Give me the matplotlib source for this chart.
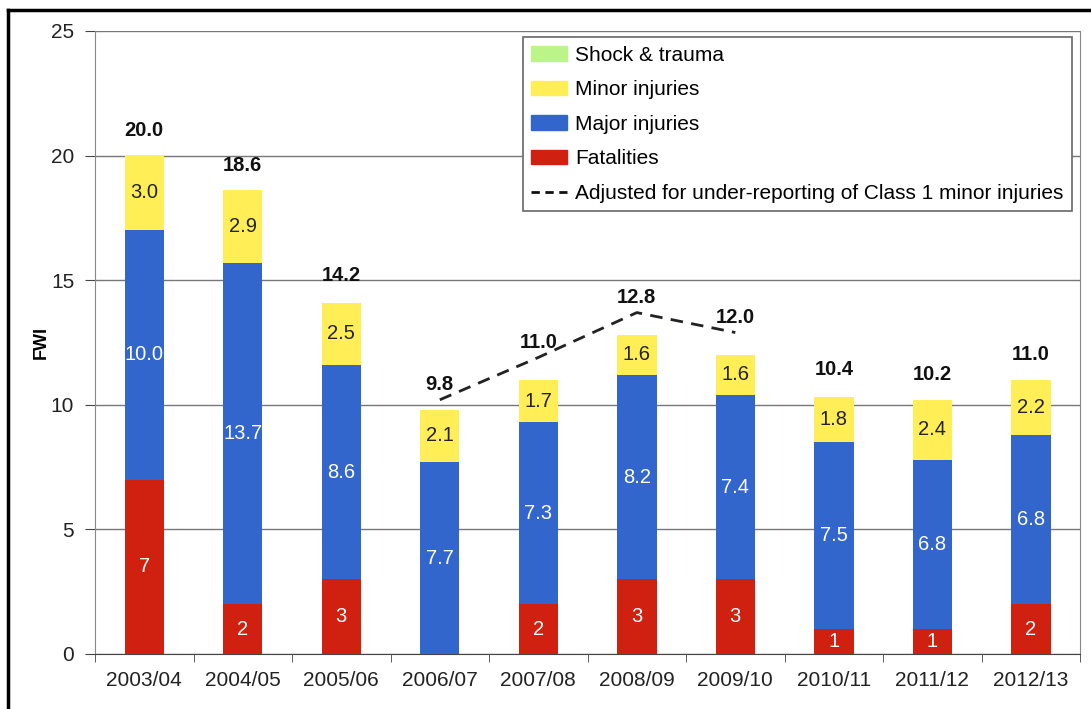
import matplotlib
matplotlib.use("Agg")
import matplotlib.pyplot as plt
import numpy as np
from matplotlib.patches import Patch
from matplotlib.lines import Line2D

plt.rcParams['font.family'] = ['Liberation Sans', 'DejaVu Sans']

years = ["2003/04", "2004/05", "2005/06", "2006/07", "2007/08",
         "2008/09", "2009/10", "2010/11", "2011/12", "2012/13"]
fatalities = [7, 2, 3, 0, 2, 3, 3, 1, 1, 2]
major = [10.0, 13.7, 8.6, 7.7, 7.3, 8.2, 7.4, 7.5, 6.8, 6.8]
minor = [3.0, 2.9, 2.5, 2.1, 1.7, 1.6, 1.6, 1.8, 2.4, 2.2]
shock = [0.0, 0.0, 0.0, 0.0, 0.0, 0.0, 0.0, 0.0, 0.0, 0.0]
totals = [20.0, 18.6, 14.2, 9.8, 11.0, 12.8, 12.0, 10.4, 10.2, 11.0]
adjusted = [np.nan, np.nan, np.nan, 10.2, 11.9, 13.7, 12.9, np.nan, np.nan, np.nan]

c_red = "#D0200F"
c_blue = "#3366CC"
c_yellow = "#FFEE55"
c_green = "#BBF58A"

fig = plt.figure(figsize=(10.91, 7.09), dpi=100)
ax = fig.add_axes([0.0871, 0.0776, 0.9029, 0.8787])

x = np.arange(len(years))
w = 0.4
f = np.array(fatalities, float)
mj = np.array(major)
mn = np.array(minor)
sh = np.array(shock)

ax.bar(x, f, w, color=c_red, zorder=3)
ax.bar(x, mj, w, bottom=f, color=c_blue, zorder=3)
ax.bar(x, mn, w, bottom=f + mj, color=c_yellow, zorder=3)
ax.bar(x, sh, w, bottom=f + mj + mn, color=c_green, zorder=3)

ax.plot(x, adjusted, linestyle=(0, (4.5, 3)), color="#222222", lw=2.0, zorder=4)

fs = 14.5
for i in range(len(years)):
    if f[i] > 0:
        ax.text(x[i], f[i] / 2, f"{int(f[i])}", ha='center', va='center',
                color='white', fontsize=fs, zorder=5)
    ax.text(x[i], f[i] + mj[i] / 2, f"{mj[i]:.1f}", ha='center', va='center',
            color='white', fontsize=fs, zorder=5)
    ax.text(x[i], f[i] + mj[i] + mn[i] / 2, f"{mn[i]:.1f}", ha='center', va='center',
            color='#222222', fontsize=fs, zorder=5)
    if np.isnan(adjusted[i]):
        ty = totals[i] + 1.0
    else:
        ty = adjusted[i] + 0.6
    ax.text(x[i], ty, f"{totals[i]:.1f}", ha='center', va='center',
            color='#111111', fontsize=fs, fontweight='bold', zorder=5)

ax.set_xlim(-0.5, len(years) - 0.5)
ax.set_ylim(0, 25)
ax.set_yticks([0, 5, 10, 15, 20, 25])
ax.set_xticks(x)
ax.set_xticklabels(years)
ax.set_xticks(np.arange(-0.5, len(years)), minor=True)
ax.tick_params(axis='x', which='major', length=0, labelsize=15, pad=12, colors='#222222')
ax.tick_params(axis='x', which='minor', length=6, color='#444444', direction='out')
ax.tick_params(axis='y', length=7, labelsize=15, color='#444444', labelcolor='#222222', pad=8)
ax.yaxis.grid(True, color='#777777', lw=1.0, zorder=0)
ax.set_axisbelow(True)
for s in ['left', 'right']:
    ax.spines[s].set_color('#888888')
ax.spines['bottom'].set_color('#444444')
ax.spines['top'].set_visible(False)
ax.set_ylabel("FWI", fontsize=13, fontweight='bold')
ax.yaxis.set_label_coords(-0.046, 0.5)

handles = [Patch(color=c_green, label="Shock & trauma"),
           Patch(color=c_yellow, label="Minor injuries"),
           Patch(color=c_blue, label="Major injuries"),
           Patch(color=c_red, label="Fatalities"),
           Line2D([0], [0], color="#111111", lw=2, linestyle=(0, (3, 2)),
                  label="Adjusted for under-reporting of Class 1 minor injuries")]
leg = ax.legend(handles=handles, loc='upper left', bbox_to_anchor=(0.4345, 0.99),
                borderaxespad=0, fontsize=15, handlelength=1.7, handleheight=0.7,
                handletextpad=0.4, labelspacing=0.75, fancybox=False,
                framealpha=1, edgecolor='#666666', borderpad=0.4)
leg.get_frame().set_linewidth(1.2)
leg.set_zorder(6)

# outer frame
fig.add_artist(Line2D([8 / 1091, 8 / 1091], [0, 1 - 10 / 709], color='black', lw=2.5,
                      transform=fig.transFigure))
fig.add_artist(Line2D([8 / 1091, 1], [1 - 10 / 709, 1 - 10 / 709], color='black', lw=2.5,
                      transform=fig.transFigure))

fig.savefig("out.png", dpi=100)
